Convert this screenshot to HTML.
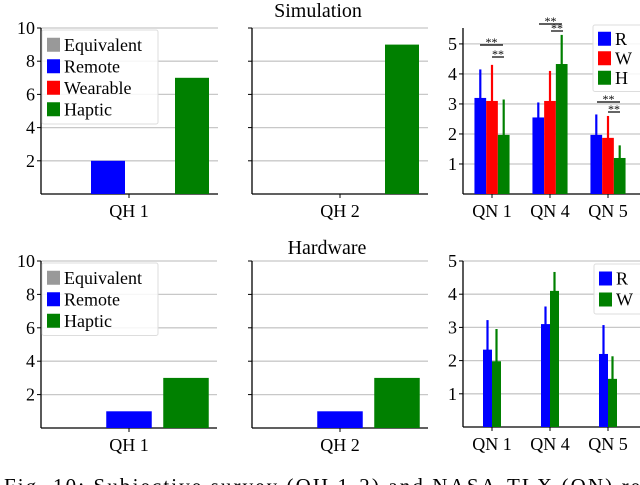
<!DOCTYPE html>
<html><head><meta charset="utf-8"><style>
html,body{margin:0;padding:0;background:#fff;}
svg{display:block;font-family:"Liberation Serif",serif;}
</style></head><body>
<svg id="c" width="640" height="485" viewBox="0 0 640 485" xmlns="http://www.w3.org/2000/svg"></svg>
<script>
// ---- data ----
const simQH1 = [0, 2, 0, 7];          // Equivalent, Remote, Wearable, Haptic
const simQH2 = [0, 0, 0, 9];
const hwQH1 = [0, 1, 3];             // Equivalent, Remote, Haptic
const hwQH2 = [0, 1, 3];
const qnCats = ["QN 1", "QN 4", "QN 5"];
const simR = [3.2, 2.55, 1.97];
const simW = [3.1, 3.1, 1.87];
const simH = [1.97, 4.33, 1.2];
const simRerr = [4.15, 3.05, 2.65];
const simWerr = [4.3, 4.1, 2.6];
const simHerr = [3.15, 5.3, 1.62];
const hwR = [2.33, 3.1, 2.2];
const hwW = [1.98, 4.1, 1.45];
const hwRerr = [3.22, 3.63, 3.07];
const hwWerr = [2.95, 4.67, 2.13];
const qhTicks = [2, 4, 6, 8, 10];
const qnTicks = [1, 2, 3, 4, 5];

const NS = "http://www.w3.org/2000/svg";
const svg = document.getElementById("c");
function mk(tag, attrs, parent, txt){
  const e = document.createElementNS(NS, tag);
  for (const k in attrs) e.setAttribute(k, attrs[k]);
  if (txt !== undefined) e.textContent = txt;
  (parent || svg).appendChild(e);
  return e;
}
function panel(name, x0, x1, yTop, yZero, maxV, ticks, showLabels){
  const g = mk("g", {});
  
  
  const y = v => yZero - (yZero - yTop) * v / maxV;
  ticks.forEach(t => {
    const gl = mk("line", {x1:x0, x2:x1, y1:y(t), y2:y(t), stroke:"#c8c8c8", "stroke-width":1.3}, g);
    
    
    mk("line", {x1:x0-4, x2:x0, y1:y(t), y2:y(t), stroke:"#000", "stroke-width":1}, g);
    if (showLabels){
      const tl = mk("text", {x:x0-6, y:y(t)+6, "text-anchor":"end", "font-size":18}, g, String(t));
      
      
    }
  });
  mk("line", {x1:x0, x2:x0, y1:yTop, y2:yZero, stroke:"#000", "stroke-width":1.3}, g);
  mk("line", {x1:x0, x2:x1, y1:yZero, y2:yZero, stroke:"#000", "stroke-width":1.3}, g);
  return {g, y};
}
function bar(g, y, xc, w, v, col){
  const r = mk("rect", {x:xc-w/2, y:y(v), width:w, height:Math.max(0, y(0)-y(v)), fill:col}, g);
  
  
}
function err(g, y, xc, v, top, col){
  const l = mk("line", {x1:xc, x2:xc, y1:y(top), y2:y(v - (top - v)), stroke:col, "stroke-width":2.2}, g);
  
  
}
function xlabel(g, x, yZero, txt){
  mk("line", {x1:x, x2:x, y1:yZero, y2:yZero+4, stroke:"#000"}, g);
  const t = mk("text", {x:x, y:yZero+23, "text-anchor":"middle", "font-size":18}, g, txt);
  
  
}
function legend(g, x, yTop, w, items, fs, rowH){
  const box = mk("rect", {x:x, y:yTop, width:w, height:items.length*rowH+8, fill:"#fff", "fill-opacity":0.85, stroke:"#ddd", rx:2}, g);
  
  
  items.forEach((it, i) => {
    const cy = yTop + 4 + rowH*i + rowH/2;
    mk("rect", {x:x+5, y:cy-7, width:13, height:14, fill:it[1]}, g);
    const t = mk("text", {x:x+22, y:cy+6, "font-size":fs}, g, it[0]);
    
    
  });
}
const GRAY="#999", BLUE="#0000ff", RED="#ff0000", GREEN="#008000";

// titles
let t = mk("text", {x:318, y:17, "text-anchor":"middle", "font-size":20}, svg, "Simulation");
 
t = mk("text", {x:327, y:254, "text-anchor":"middle", "font-size":20}, svg, "Hardware");
 

// top-left
let p = panel("sim-qh1-chart", 41, 218, 28, 194, 10, qhTicks, true);
const simCols = [GRAY, BLUE, RED, GREEN];
const simOff = [-66, -21, 21, 63];
simQH1.forEach((v,i) => { if (v>0) bar(p.g, p.y, 129+simOff[i], 34, v, simCols[i]); });
xlabel(p.g, 129, 194, "QH 1");
legend(p.g, 42, 30, 116, [["Equivalent",GRAY],["Remote",BLUE],["Wearable",RED],["Haptic",GREEN]], 18, 21.5);

// top-middle
p = panel("sim-qh2-chart", 252, 428, 28, 194, 10, qhTicks, false);
simQH2.forEach((v,i) => { if (v>0) bar(p.g, p.y, 340+simOff[i]-1, 34, v, simCols[i]); });
xlabel(p.g, 340, 194, "QH 2");

// top-right
p = panel("sim-qn-chart", 463, 640, 28, 194, 5.53, qnTicks, true);
const qnX = [492, 550, 608];
qnCats.forEach((c,i) => {
  bar(p.g, p.y, qnX[i]-11.7, 11.7, simR[i], BLUE);
  bar(p.g, p.y, qnX[i], 11.7, simW[i], RED);
  bar(p.g, p.y, qnX[i]+11.7, 11.7, simH[i], GREEN);
  err(p.g, p.y, qnX[i]-11.7, simR[i], simRerr[i], BLUE);
  err(p.g, p.y, qnX[i], simW[i], simWerr[i], RED);
  err(p.g, p.y, qnX[i]+11.7, simH[i], simHerr[i], GREEN);
  xlabel(p.g, qnX[i], 194, c);
});
// significance markers
[[480,503,45,"**"],[492,504,57,"**"],[539,562,24,"**"],[551,563,31,"**"],[597,620,102,"**"],[608,620,112,"**"]].forEach(s=>{
  mk("line",{x1:s[0],x2:s[1],y1:s[2],y2:s[2],stroke:"#000","stroke-width":1.2},p.g);
  const st = mk("text",{x:(s[0]+s[1])/2,y:s[2]+1,"text-anchor":"middle","font-size":12},p.g,s[3]);
   
});
legend(p.g, 593, 25, 50, [["R",BLUE],["W",RED],["H",GREEN]], 18, 19.5);

// bottom-left
const hwCols = [GRAY, BLUE, GREEN];
const hwOff = [-55, 0, 57];
p = panel("hw-qh1-chart", 41, 217, 261, 428, 10, qhTicks, true);
hwQH1.forEach((v,i) => { if (v>0) bar(p.g, p.y, 129+hwOff[i], 45.5, v, hwCols[i]); });
xlabel(p.g, 129, 428, "QH 1");
legend(p.g, 42, 263, 116, [["Equivalent",GRAY],["Remote",BLUE],["Haptic",GREEN]], 18, 21.5);

// bottom-middle
p = panel("hw-qh2-chart", 252, 428, 261, 428, 10, qhTicks, false);
hwQH2.forEach((v,i) => { if (v>0) bar(p.g, p.y, 340+hwOff[i], 45.5, v, hwCols[i]); });
xlabel(p.g, 340, 428, "QH 2");

// bottom-right
p = panel("hw-qn-chart", 463, 640, 261, 427, 5, qnTicks, true);
qnCats.forEach((c,i) => {
  bar(p.g, p.y, qnX[i]-4.5, 9, hwR[i], BLUE);
  bar(p.g, p.y, qnX[i]+4.5, 9, hwW[i], GREEN);
  err(p.g, p.y, qnX[i]-4.5, hwR[i], hwRerr[i], BLUE);
  err(p.g, p.y, qnX[i]+4.5, hwW[i], hwWerr[i], GREEN);
  xlabel(p.g, qnX[i], 427, c);
});
legend(p.g, 594, 264, 50, [["R",BLUE],["W",GREEN]], 18, 21);

// caption
t = mk("text", {x:4, y:493, "font-size":21, textLength:636, lengthAdjust:"spacing"}, svg, "Fig. 10: Subjective survey (QH 1-2) and NASA-TLX (QN) re");
 
</script>
</body></html>
